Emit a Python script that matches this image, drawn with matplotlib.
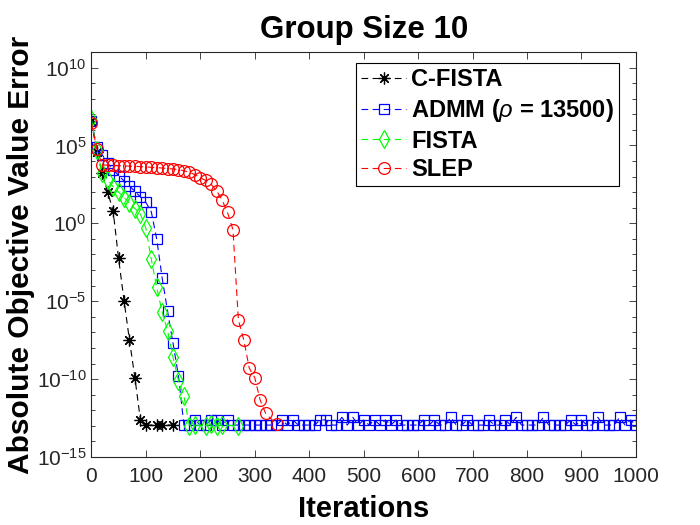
import numpy as np
import matplotlib
matplotlib.use("Agg")
import matplotlib.pyplot as plt
from matplotlib.ticker import FixedLocator, LogLocator, NullFormatter

plt.rcParams['font.family'] = ['Liberation Sans', 'DejaVu Sans']
plt.rcParams['mathtext.fontset'] = 'custom'
plt.rcParams['mathtext.rm'] = 'Liberation Sans'
plt.rcParams['mathtext.it'] = 'Liberation Sans:italic'
plt.rcParams['mathtext.bf'] = 'Liberation Sans:bold'

# --- data (log10 of the error) ---
cfista_iter = [0, 10, 20, 30, 40, 50, 60, 70, 80, 90, 100, 120, 130, 150]
cfista_log = [6.6, 4.55, 3.24, 2.0, 0.79, -2.25, -4.96, -7.5, -9.92, -12.6,
              -12.95, -12.95, -12.95, -12.95]

admm_iter = list(range(0, 1001, 10))
admm_log = [6.6, 4.9, 4.4, 3.85, 3.45, 3.07, 2.72, 2.4, 2.05, 1.7,
            1.35, 0.75, -1.0, -3.5, -5.65, -7.7, -9.8, -12.95, -12.95, -12.62,
            -12.95, -12.95, -12.62, -12.62, -12.95, -12.62, -12.95, -12.95, -12.95, -12.95,
            -12.95, -12.95, -12.95, -12.95, -12.95, -12.62, -12.95, -12.62, -12.95, -12.95,
            -12.95, -12.95, -12.62, -12.62, -12.95, -12.95, -12.45, -12.95, -12.45, -12.95,
            -12.62, -12.95, -12.62, -12.95, -12.62, -12.95, -12.62, -12.95, -12.95, -12.95,
            -12.95, -12.62, -12.95, -12.62, -12.95, -12.95, -12.45, -12.95, -12.95, -12.62,
            -12.95, -12.95, -12.95, -12.62, -12.95, -12.95, -12.62, -12.95, -12.45, -12.95,
            -12.95, -12.95, -12.95, -12.45, -12.95, -12.95, -12.95, -12.95, -12.62, -12.95,
            -12.62, -12.95, -12.95, -12.45, -12.95, -12.95, -12.95, -12.45, -12.95, -12.62,
            -12.95]

fista_iter = [0, 10, 20, 30, 40, 50, 60, 70, 80, 90, 100, 110, 120, 130, 140, 150,
              160, 170, 180, 190, 210, 220, 230, 240, 270]
fista_log = [6.7, 4.7, 3.25, 2.8, 2.35, 2.0, 1.65, 1.3, 0.95, 0.6, -0.3, -2.3, -4.1,
             -5.7, -6.9, -8.6, -10.1, -11.1, -13.0, -12.95, -13.0, -12.9, -13.0, -12.95, -13.0]

slep_iter = list(range(0, 321, 10)) + [340]
slep_log = [6.45, 4.8, 3.75, 3.73, 3.72, 3.70, 3.69, 3.67, 3.66, 3.64,
            3.62, 3.6, 3.58, 3.55, 3.52, 3.49, 3.45, 3.38, 3.28, 3.13,
            2.93, 2.75, 2.5, 2.1, 1.5, 0.7, -0.4, -6.2, -7.5, -9.3,
            -9.9, -11.35, -12.2, -12.9]

labels = ['C-FISTA', r'ADMM ($\rho$ = 13500)', 'FISTA', 'SLEP']

fig = plt.figure(figsize=(7, 5.25), dpi=100)
ax = fig.add_axes([0.1305, 0.1295, 0.778, 0.7715])

dash = (6, 4)
ax.semilogy(cfista_iter, 10.0 ** np.array(cfista_log), color='k', linestyle='--', dashes=dash,
            lw=0.8, marker=(8, 2, 0), markersize=8.5, markeredgewidth=0.9, label=labels[0])
ax.semilogy(admm_iter, 10.0 ** np.array(admm_log), color='#0000ff', linestyle='--', dashes=dash,
            lw=0.8, marker='s', markersize=7, markerfacecolor='none', markeredgewidth=0.9,
            label=labels[1])
ax.semilogy(fista_iter, 10.0 ** np.array(fista_log), color='#00ff00', linestyle='--', dashes=dash,
            lw=0.8, marker='d', markersize=9, markerfacecolor='none', markeredgewidth=0.9,
            label=labels[2])
ax.semilogy(slep_iter, 10.0 ** np.array(slep_log), color='#ff0000', linestyle='--', dashes=dash,
            lw=0.8, marker='o', markersize=8.5, markerfacecolor='none', markeredgewidth=0.9,
            label=labels[3])

ax.set_xlim(0, 1000)
ax.set_ylim(1e-15, 1e11)
ax.xaxis.set_major_locator(FixedLocator(np.arange(0, 1001, 100)))
yt = [1e-15, 1e-10, 1e-5, 1e0, 1e5, 1e10]
ax.yaxis.set_major_locator(FixedLocator(yt))
ax.set_yticklabels([r'$\mathregular{10^{%d}}$' % e for e in [-15, -10, -5, 0, 5, 10]])
ax.yaxis.set_minor_locator(LogLocator(base=10, subs=(1.0,), numticks=40))
ax.yaxis.set_minor_formatter(NullFormatter())
ax.tick_params(which='both', direction='in', top=True, right=True, labelsize=15,
               colors='#262626', width=0.6)
ax.tick_params(axis='x', pad=7)
ax.tick_params(which='major', length=5)
ax.tick_params(which='minor', length=3)
for s in ax.spines.values():
    s.set_linewidth(0.8)
    s.set_color('#262626')

ax.set_title('Group Size 10', fontsize=22.5, fontweight='bold', pad=10)
ax.set_xlabel('Iterations', fontsize=21, fontweight='bold', labelpad=7)
ax.set_ylabel('Absolute Objective Value Error', fontsize=21.5, fontweight='bold', labelpad=1)

leg = ax.legend(loc='upper right', bbox_to_anchor=(0.9688, 0.9728), borderaxespad=0,
                fancybox=False, edgecolor='k', framealpha=1,
                prop={'weight': 'bold', 'size': 17},
                handlelength=1.9, labelspacing=0.24, borderpad=0.22, handletextpad=0.2)
leg.get_frame().set_linewidth(0.8)

fig.savefig('out.png', dpi=100)
